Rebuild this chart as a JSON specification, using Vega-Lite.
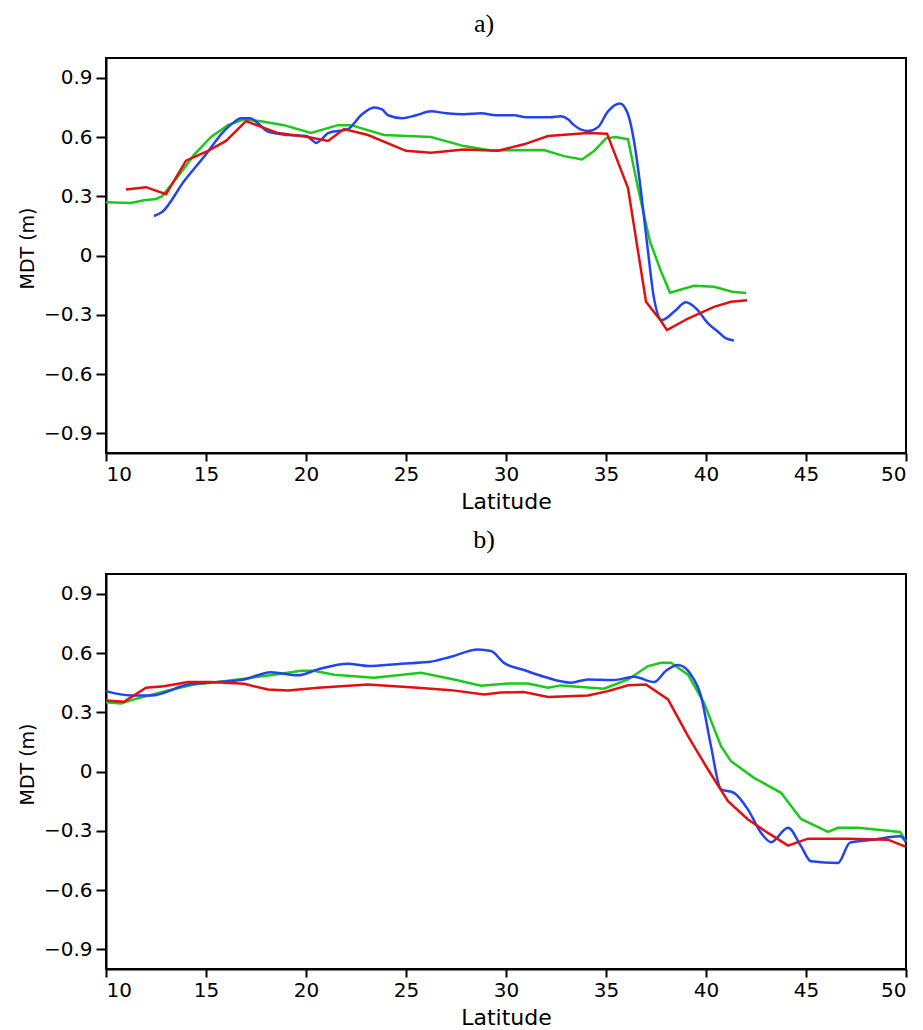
{
 "$schema": "https://vega.github.io/schema/vega-lite/v6.json",
 "background": "white",
 "padding": {"left": 17, "top": 10, "right": 0, "bottom": 0},
 "config": {
  "view": {"stroke": "black", "strokeWidth": 2},
  "axis": {"domainColor": "black", "domainWidth": 2, "tickColor": "black", "tickWidth": 2, "labelFont": "DejaVu Sans", "labelFontSize": 20, "labelColor": "black", "titleFont": "DejaVu Sans", "titleFontWeight": "normal", "titleColor": "black", "grid": false},
  "title": {"font": "Liberation Serif", "fontSize": 26, "fontWeight": "normal", "color": "black", "dx": -22}
 },
 "datasets": {
  "d": [
   {"p":"a","s":"s2","lat":10,"mdt":0.27},{"p":"a","s":"s2","lat":11.25,"mdt":0.266},{"p":"a","s":"s2","lat":11.9,"mdt":0.28},{"p":"a","s":"s2","lat":12.5,"mdt":0.286},{"p":"a","s":"s2","lat":12.8,"mdt":0.30},{"p":"a","s":"s2","lat":13.6,"mdt":0.40},{"p":"a","s":"s2","lat":14.4,"mdt":0.51},{"p":"a","s":"s2","lat":15.25,"mdt":0.60},{"p":"a","s":"s2","lat":16.1,"mdt":0.66},{"p":"a","s":"s2","lat":16.9,"mdt":0.69},{"p":"a","s":"s2","lat":17.75,"mdt":0.68},{"p":"a","s":"s2","lat":18.9,"mdt":0.66},{"p":"a","s":"s2","lat":20.25,"mdt":0.62},{"p":"a","s":"s2","lat":21.6,"mdt":0.66},{"p":"a","s":"s2","lat":22.25,"mdt":0.66},{"p":"a","s":"s2","lat":23.9,"mdt":0.61},{"p":"a","s":"s2","lat":26.25,"mdt":0.60},{"p":"a","s":"s2","lat":27.9,"mdt":0.554},{"p":"a","s":"s2","lat":29.25,"mdt":0.532},{"p":"a","s":"s2","lat":31.9,"mdt":0.534},{"p":"a","s":"s2","lat":32.9,"mdt":0.503},{"p":"a","s":"s2","lat":33.8,"mdt":0.486},{"p":"a","s":"s2","lat":34.4,"mdt":0.529},{"p":"a","s":"s2","lat":35.0,"mdt":0.593},{"p":"a","s":"s2","lat":35.5,"mdt":0.60},{"p":"a","s":"s2","lat":36.1,"mdt":0.588},{"p":"a","s":"s2","lat":36.6,"mdt":0.342},{"p":"a","s":"s2","lat":37.2,"mdt":0.07},{"p":"a","s":"s2","lat":37.75,"mdt":-0.08},{"p":"a","s":"s2","lat":38.2,"mdt":-0.188},{"p":"a","s":"s2","lat":39.4,"mdt":-0.153},{"p":"a","s":"s2","lat":40.4,"mdt":-0.158},{"p":"a","s":"s2","lat":41.3,"mdt":-0.183},{"p":"a","s":"s2","lat":42.0,"mdt":-0.19},
   {"p":"a","s":"s3","lat":12.4,"mdt":0.20},{"p":"a","s":"s3","lat":12.8,"mdt":0.22},{"p":"a","s":"s3","lat":13.9,"mdt":0.376},{"p":"a","s":"s3","lat":14.9,"mdt":0.50},{"p":"a","s":"s3","lat":15.9,"mdt":0.63},{"p":"a","s":"s3","lat":16.4,"mdt":0.675},{"p":"a","s":"s3","lat":16.75,"mdt":0.695},{"p":"a","s":"s3","lat":17.2,"mdt":0.695},{"p":"a","s":"s3","lat":17.6,"mdt":0.67},{"p":"a","s":"s3","lat":18.1,"mdt":0.627},{"p":"a","s":"s3","lat":19.1,"mdt":0.61},{"p":"a","s":"s3","lat":20.0,"mdt":0.605},{"p":"a","s":"s3","lat":20.3,"mdt":0.585},{"p":"a","s":"s3","lat":20.5,"mdt":0.57},{"p":"a","s":"s3","lat":20.8,"mdt":0.59},{"p":"a","s":"s3","lat":21.1,"mdt":0.62},{"p":"a","s":"s3","lat":22.1,"mdt":0.64},{"p":"a","s":"s3","lat":22.75,"mdt":0.71},{"p":"a","s":"s3","lat":23.4,"mdt":0.75},{"p":"a","s":"s3","lat":23.8,"mdt":0.74},{"p":"a","s":"s3","lat":24.1,"mdt":0.71},{"p":"a","s":"s3","lat":24.8,"mdt":0.695},{"p":"a","s":"s3","lat":25.5,"mdt":0.71},{"p":"a","s":"s3","lat":26.25,"mdt":0.73},{"p":"a","s":"s3","lat":27.0,"mdt":0.72},{"p":"a","s":"s3","lat":27.9,"mdt":0.715},{"p":"a","s":"s3","lat":28.75,"mdt":0.72},{"p":"a","s":"s3","lat":29.5,"mdt":0.71},{"p":"a","s":"s3","lat":30.4,"mdt":0.71},{"p":"a","s":"s3","lat":31.0,"mdt":0.70},{"p":"a","s":"s3","lat":31.6,"mdt":0.70},{"p":"a","s":"s3","lat":32.2,"mdt":0.70},{"p":"a","s":"s3","lat":32.75,"mdt":0.705},{"p":"a","s":"s3","lat":33.1,"mdt":0.69},{"p":"a","s":"s3","lat":33.4,"mdt":0.66},{"p":"a","s":"s3","lat":34.1,"mdt":0.63},{"p":"a","s":"s3","lat":34.6,"mdt":0.65},{"p":"a","s":"s3","lat":35.1,"mdt":0.73},{"p":"a","s":"s3","lat":35.7,"mdt":0.77},{"p":"a","s":"s3","lat":36.1,"mdt":0.715},{"p":"a","s":"s3","lat":36.4,"mdt":0.58},{"p":"a","s":"s3","lat":36.75,"mdt":0.325},{"p":"a","s":"s3","lat":37.1,"mdt":0.02},{"p":"a","s":"s3","lat":37.4,"mdt":-0.217},{"p":"a","s":"s3","lat":37.8,"mdt":-0.327},{"p":"a","s":"s3","lat":38.4,"mdt":-0.285},{"p":"a","s":"s3","lat":39.0,"mdt":-0.237},{"p":"a","s":"s3","lat":39.5,"mdt":-0.268},{"p":"a","s":"s3","lat":40.1,"mdt":-0.344},{"p":"a","s":"s3","lat":40.6,"mdt":-0.386},{"p":"a","s":"s3","lat":41.0,"mdt":-0.42},{"p":"a","s":"s3","lat":41.4,"mdt":-0.43},
   {"p":"a","s":"s1","lat":11.0,"mdt":0.334},{"p":"a","s":"s1","lat":12.0,"mdt":0.346},{"p":"a","s":"s1","lat":13.0,"mdt":0.31},{"p":"a","s":"s1","lat":14.0,"mdt":0.48},{"p":"a","s":"s1","lat":15.1,"mdt":0.53},{"p":"a","s":"s1","lat":16.0,"mdt":0.58},{"p":"a","s":"s1","lat":17.0,"mdt":0.68},{"p":"a","s":"s1","lat":18.6,"mdt":0.62},{"p":"a","s":"s1","lat":20.1,"mdt":0.60},{"p":"a","s":"s1","lat":21.1,"mdt":0.58},{"p":"a","s":"s1","lat":21.9,"mdt":0.64},{"p":"a","s":"s1","lat":23.1,"mdt":0.61},{"p":"a","s":"s1","lat":25.0,"mdt":0.53},{"p":"a","s":"s1","lat":26.25,"mdt":0.52},{"p":"a","s":"s1","lat":27.9,"mdt":0.537},{"p":"a","s":"s1","lat":29.6,"mdt":0.53},{"p":"a","s":"s1","lat":30.9,"mdt":0.563},{"p":"a","s":"s1","lat":32.1,"mdt":0.605},{"p":"a","s":"s1","lat":34.1,"mdt":0.62},{"p":"a","s":"s1","lat":35.05,"mdt":0.617},{"p":"a","s":"s1","lat":36.1,"mdt":0.342},{"p":"a","s":"s1","lat":37.0,"mdt":-0.234},{"p":"a","s":"s1","lat":37.75,"mdt":-0.332},{"p":"a","s":"s1","lat":38.05,"mdt":-0.378},{"p":"a","s":"s1","lat":39.1,"mdt":-0.319},{"p":"a","s":"s1","lat":40.4,"mdt":-0.26},{"p":"a","s":"s1","lat":41.25,"mdt":-0.234},{"p":"a","s":"s1","lat":42.05,"mdt":-0.227},
   {"p":"b","s":"s2","lat":10,"mdt":0.35},{"p":"b","s":"s2","lat":10.75,"mdt":0.345},{"p":"b","s":"s2","lat":11.4,"mdt":0.365},{"p":"b","s":"s2","lat":13.1,"mdt":0.41},{"p":"b","s":"s2","lat":14.4,"mdt":0.44},{"p":"b","s":"s2","lat":15.6,"mdt":0.453},{"p":"b","s":"s2","lat":16.9,"mdt":0.47},{"p":"b","s":"s2","lat":18.4,"mdt":0.49},{"p":"b","s":"s2","lat":19.75,"mdt":0.51},{"p":"b","s":"s2","lat":20.4,"mdt":0.51},{"p":"b","s":"s2","lat":21.4,"mdt":0.49},{"p":"b","s":"s2","lat":23.4,"mdt":0.475},{"p":"b","s":"s2","lat":25.75,"mdt":0.50},{"p":"b","s":"s2","lat":27.4,"mdt":0.466},{"p":"b","s":"s2","lat":28.75,"mdt":0.434},{"p":"b","s":"s2","lat":30.1,"mdt":0.446},{"p":"b","s":"s2","lat":31.1,"mdt":0.446},{"p":"b","s":"s2","lat":32.1,"mdt":0.424},{"p":"b","s":"s2","lat":32.75,"mdt":0.436},{"p":"b","s":"s2","lat":34.9,"mdt":0.419},{"p":"b","s":"s2","lat":36.1,"mdt":0.466},{"p":"b","s":"s2","lat":37.1,"mdt":0.534},{"p":"b","s":"s2","lat":37.75,"mdt":0.551},{"p":"b","s":"s2","lat":38.25,"mdt":0.551},{"p":"b","s":"s2","lat":39.1,"mdt":0.49},{"p":"b","s":"s2","lat":39.9,"mdt":0.348},{"p":"b","s":"s2","lat":40.75,"mdt":0.128},{"p":"b","s":"s2","lat":41.25,"mdt":0.052},{"p":"b","s":"s2","lat":42.4,"mdt":-0.032},{"p":"b","s":"s2","lat":43.75,"mdt":-0.108},{"p":"b","s":"s2","lat":44.75,"mdt":-0.24},{"p":"b","s":"s2","lat":46.1,"mdt":-0.306},{"p":"b","s":"s2","lat":46.6,"mdt":-0.285},{"p":"b","s":"s2","lat":47.6,"mdt":-0.285},{"p":"b","s":"s2","lat":49.7,"mdt":-0.306},{"p":"b","s":"s2","lat":50,"mdt":-0.353},
   {"p":"b","s":"s3","lat":10,"mdt":0.407},{"p":"b","s":"s3","lat":11.25,"mdt":0.385},{"p":"b","s":"s3","lat":12.25,"mdt":0.385},{"p":"b","s":"s3","lat":14.1,"mdt":0.44},{"p":"b","s":"s3","lat":15.6,"mdt":0.453},{"p":"b","s":"s3","lat":16.9,"mdt":0.466},{"p":"b","s":"s3","lat":18.25,"mdt":0.503},{"p":"b","s":"s3","lat":19.6,"mdt":0.487},{"p":"b","s":"s3","lat":20.6,"mdt":0.517},{"p":"b","s":"s3","lat":22.1,"mdt":0.546},{"p":"b","s":"s3","lat":23.1,"mdt":0.534},{"p":"b","s":"s3","lat":24.75,"mdt":0.546},{"p":"b","s":"s3","lat":26.1,"mdt":0.554},{"p":"b","s":"s3","lat":27.25,"mdt":0.581},{"p":"b","s":"s3","lat":28.6,"mdt":0.618},{"p":"b","s":"s3","lat":29.25,"mdt":0.61},{"p":"b","s":"s3","lat":29.9,"mdt":0.55},{"p":"b","s":"s3","lat":30.9,"mdt":0.514},{"p":"b","s":"s3","lat":31.9,"mdt":0.48},{"p":"b","s":"s3","lat":33.25,"mdt":0.45},{"p":"b","s":"s3","lat":34.1,"mdt":0.466},{"p":"b","s":"s3","lat":35.4,"mdt":0.463},{"p":"b","s":"s3","lat":36.4,"mdt":0.48},{"p":"b","s":"s3","lat":37.4,"mdt":0.453},{"p":"b","s":"s3","lat":38.0,"mdt":0.51},{"p":"b","s":"s3","lat":38.6,"mdt":0.539},{"p":"b","s":"s3","lat":39.25,"mdt":0.49},{"p":"b","s":"s3","lat":39.75,"mdt":0.382},{"p":"b","s":"s3","lat":40.25,"mdt":0.128},{"p":"b","s":"s3","lat":40.75,"mdt":-0.09},{"p":"b","s":"s3","lat":41.4,"mdt":-0.108},{"p":"b","s":"s3","lat":42.1,"mdt":-0.193},{"p":"b","s":"s3","lat":42.75,"mdt":-0.31},{"p":"b","s":"s3","lat":43.25,"mdt":-0.358},{"p":"b","s":"s3","lat":44.1,"mdt":-0.285},{"p":"b","s":"s3","lat":44.75,"mdt":-0.378},{"p":"b","s":"s3","lat":45.25,"mdt":-0.455},{"p":"b","s":"s3","lat":46.6,"mdt":-0.463},{"p":"b","s":"s3","lat":47.2,"mdt":-0.36},{"p":"b","s":"s3","lat":48.4,"mdt":-0.345},{"p":"b","s":"s3","lat":49.7,"mdt":-0.328},{"p":"b","s":"s3","lat":50,"mdt":-0.358},
   {"p":"b","s":"s1","lat":10,"mdt":0.36},{"p":"b","s":"s1","lat":10.9,"mdt":0.353},{"p":"b","s":"s1","lat":12.0,"mdt":0.424},{"p":"b","s":"s1","lat":12.9,"mdt":0.432},{"p":"b","s":"s1","lat":14.1,"mdt":0.453},{"p":"b","s":"s1","lat":15.25,"mdt":0.453},{"p":"b","s":"s1","lat":16.9,"mdt":0.444},{"p":"b","s":"s1","lat":18.1,"mdt":0.415},{"p":"b","s":"s1","lat":19.1,"mdt":0.41},{"p":"b","s":"s1","lat":20.6,"mdt":0.424},{"p":"b","s":"s1","lat":23.1,"mdt":0.44},{"p":"b","s":"s1","lat":25.6,"mdt":0.424},{"p":"b","s":"s1","lat":27.25,"mdt":0.412},{"p":"b","s":"s1","lat":28.9,"mdt":0.39},{"p":"b","s":"s1","lat":29.75,"mdt":0.40},{"p":"b","s":"s1","lat":30.9,"mdt":0.402},{"p":"b","s":"s1","lat":32.1,"mdt":0.377},{"p":"b","s":"s1","lat":34.1,"mdt":0.385},{"p":"b","s":"s1","lat":35.1,"mdt":0.407},{"p":"b","s":"s1","lat":36.1,"mdt":0.437},{"p":"b","s":"s1","lat":37.0,"mdt":0.441},{"p":"b","s":"s1","lat":38.1,"mdt":0.365},{"p":"b","s":"s1","lat":39.1,"mdt":0.179},{"p":"b","s":"s1","lat":40.1,"mdt":0.01},{"p":"b","s":"s1","lat":41.1,"mdt":-0.15},{"p":"b","s":"s1","lat":42.1,"mdt":-0.243},{"p":"b","s":"s1","lat":43.1,"mdt":-0.311},{"p":"b","s":"s1","lat":44.1,"mdt":-0.375},{"p":"b","s":"s1","lat":45.1,"mdt":-0.34},{"p":"b","s":"s1","lat":47.1,"mdt":-0.34},{"p":"b","s":"s1","lat":49.1,"mdt":-0.345},{"p":"b","s":"s1","lat":50,"mdt":-0.382}
  ]
 },
 "spacing": 13,
 "vconcat": [
  {
   "title": {"text": "a)", "offset": 21},
   "width": 800, "height": 395,
   "data": {"name": "d"},
   "transform": [{"filter": "datum.p == 'a'"}],
   "encoding": {
    "x": {"field": "lat", "type": "quantitative", "scale": {"domain": [10, 50], "nice": false, "zero": false},
          "axis": {"values": [10,15,20,25,30,35,40,45,50], "title": "Latitude", "tickSize": 8, "labelPadding": 3, "titleFontSize": 22, "titlePadding": 7}},
    "y": {"field": "mdt", "type": "quantitative", "scale": {"domain": [-1, 1], "nice": false},
          "axis": {"values": [-0.9,-0.6,-0.3,0,0.3,0.6,0.9], "format": ".1~f", "title": "MDT (m)", "tickSize": 10, "labelPadding": 4, "titleFontSize": 19, "titleX": -73, "titleY": 190, "titleAngle": 270, "titleBaseline": "alphabetic", "titleAlign": "center"}},
    "color": {"field": "s", "type": "nominal", "scale": {"domain": ["s2", "s3", "s1"], "range": ["#1cc81c", "#2244ee", "#e01010"]}, "legend": null}
   },
   "layer": [
    {"transform": [{"filter": "datum.s == 's2'"}], "mark": {"type": "line", "strokeWidth": 2.5}},
    {"transform": [{"filter": "datum.s == 's3'"}], "mark": {"type": "line", "strokeWidth": 2.5, "interpolate": "monotone"}},
    {"transform": [{"filter": "datum.s == 's1'"}], "mark": {"type": "line", "strokeWidth": 2.5}}
   ]
  },
  {
   "title": {"text": "b)", "offset": 21},
   "width": 800, "height": 395,
   "data": {"name": "d"},
   "transform": [{"filter": "datum.p == 'b'"}],
   "encoding": {
    "x": {"field": "lat", "type": "quantitative", "scale": {"domain": [10, 50], "nice": false, "zero": false},
          "axis": {"values": [10,15,20,25,30,35,40,45,50], "title": "Latitude", "tickSize": 8, "labelPadding": 3, "titleFontSize": 22, "titlePadding": 7}},
    "y": {"field": "mdt", "type": "quantitative", "scale": {"domain": [-1, 1], "nice": false},
          "axis": {"values": [-0.9,-0.6,-0.3,0,0.3,0.6,0.9], "format": ".1~f", "title": "MDT (m)", "tickSize": 10, "labelPadding": 4, "titleFontSize": 19, "titleX": -73, "titleY": 190, "titleAngle": 270, "titleBaseline": "alphabetic", "titleAlign": "center"}},
    "color": {"field": "s", "type": "nominal", "scale": {"domain": ["s2", "s3", "s1"], "range": ["#1cc81c", "#2244ee", "#e01010"]}, "legend": null}
   },
   "layer": [
    {"transform": [{"filter": "datum.s == 's2'"}], "mark": {"type": "line", "strokeWidth": 2.5}},
    {"transform": [{"filter": "datum.s == 's3'"}], "mark": {"type": "line", "strokeWidth": 2.5, "interpolate": "monotone"}},
    {"transform": [{"filter": "datum.s == 's1'"}], "mark": {"type": "line", "strokeWidth": 2.5}}
   ]
  }
 ]
}
